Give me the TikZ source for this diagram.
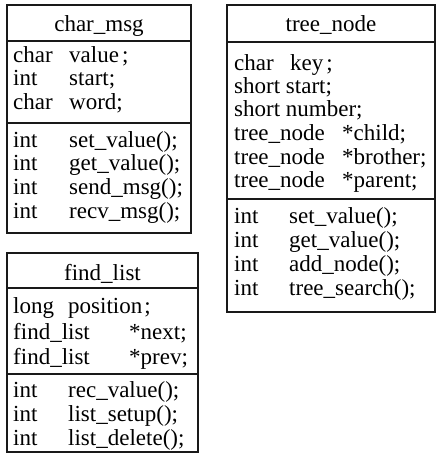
\documentclass[tikz,border=0pt]{standalone}
\usepackage{fontspec}
\setmainfont{Liberation Serif}
\begin{document}
\begin{tikzpicture}[x=1pt,y=-1pt]
\tikzset{
  classbox/.style={draw=black!90, line width=1.5pt},
  divider/.style={draw=black!90, line width=1.4pt},
  member/.style={anchor=base west, inner sep=0pt, font=\fontsize{23}{23}\selectfont},
  title/.style={anchor=base, inner sep=0pt, font=\fontsize{23}{23}\selectfont},
}
\useasboundingbox (0,0) rectangle (436,456);

% ---- class char_msg ----
\draw[classbox] (7,5) rectangle (191,233);
\draw[divider] (7,41) -- (191,41);
\draw[divider] (7,123) -- (191,123);
\node[title] (cmT) at (99,31) {char\_msg};
\node[member] (cmA1t) at (13,62) {char};   \node[member] (cmA1n) at (69,62) {value\hspace{3pt};};
\node[member] (cmA2t) at (13,85) {int};    \node[member] (cmA2n) at (69,85) {start;};
\node[member] (cmA3t) at (13,109) {char};  \node[member] (cmA3n) at (69,109) {word;};
\node[member] (cmM1t) at (13,147) {int};   \node[member] (cmM1n) at (69,147) {set\_value();};
\node[member] (cmM2t) at (13,170) {int};   \node[member] (cmM2n) at (69,170) {get\_value();};
\node[member] (cmM3t) at (13,194) {int};   \node[member] (cmM3n) at (69,194) {send\_msg();};
\node[member] (cmM4t) at (13,218) {int};   \node[member] (cmM4n) at (69,218) {recv\_msg();};

% ---- class tree_node ----
\draw[classbox] (227,5) rectangle (435,312);
\draw[divider] (227,42) -- (435,42);
\draw[divider] (227,199) -- (435,199);
\node[title] (tnT) at (331,31) {tree\_node};
\node[member] (tnA1t) at (234,70) {char};      \node[member] (tnA1n) at (290,70) {key\hspace{3pt};};
\node[member] (tnA2) at (234,93) {short start;};
\node[member] (tnA3) at (234,116) {short number;};
\node[member] (tnA4t) at (234,140) {tree\_node}; \node[member] (tnA4n) at (342,140) {*child;};
\node[member] (tnA5t) at (234,164) {tree\_node}; \node[member] (tnA5n) at (342,164) {*brother;};
\node[member] (tnA6t) at (234,187) {tree\_node}; \node[member] (tnA6n) at (342,187) {*parent;};
\node[member] (tnM1t) at (234,223) {int};      \node[member] (tnM1n) at (289,223) {set\_value();};
\node[member] (tnM2t) at (234,247) {int};      \node[member] (tnM2n) at (289,247) {get\_value();};
\node[member] (tnM3t) at (234,271) {int};      \node[member] (tnM3n) at (289,271) {add\_node();};
\node[member] (tnM4t) at (234,295) {int};      \node[member] (tnM4n) at (289,295) {tree\_search();};

% ---- class find_list ----
\draw[classbox] (7,253) rectangle (198,452);
\draw[divider] (7,288) -- (198,288);
\draw[divider] (7,374) -- (198,374);
\node[title] (flT) at (102.5,280) {find\_list};
\node[member] (flA1t) at (13,313) {long};       \node[member] (flA1n) at (68,313) {position\hspace{2pt};};
\node[member] (flA2t) at (13,339) {find\_list};  \node[member] (flA2n) at (129,339) {*next;};
\node[member] (flA3t) at (13,364) {find\_list};  \node[member] (flA3n) at (129,364) {*prev;};
\node[member] (flM1t) at (13,397) {int};        \node[member] (flM1n) at (68,397) {rec\_value();};
\node[member] (flM2t) at (13,421) {int};        \node[member] (flM2n) at (68,421) {list\_setup();};
\node[member] (flM3t) at (13,445) {int};        \node[member] (flM3n) at (68,445) {list\_delete();};
\end{tikzpicture}
\end{document}
